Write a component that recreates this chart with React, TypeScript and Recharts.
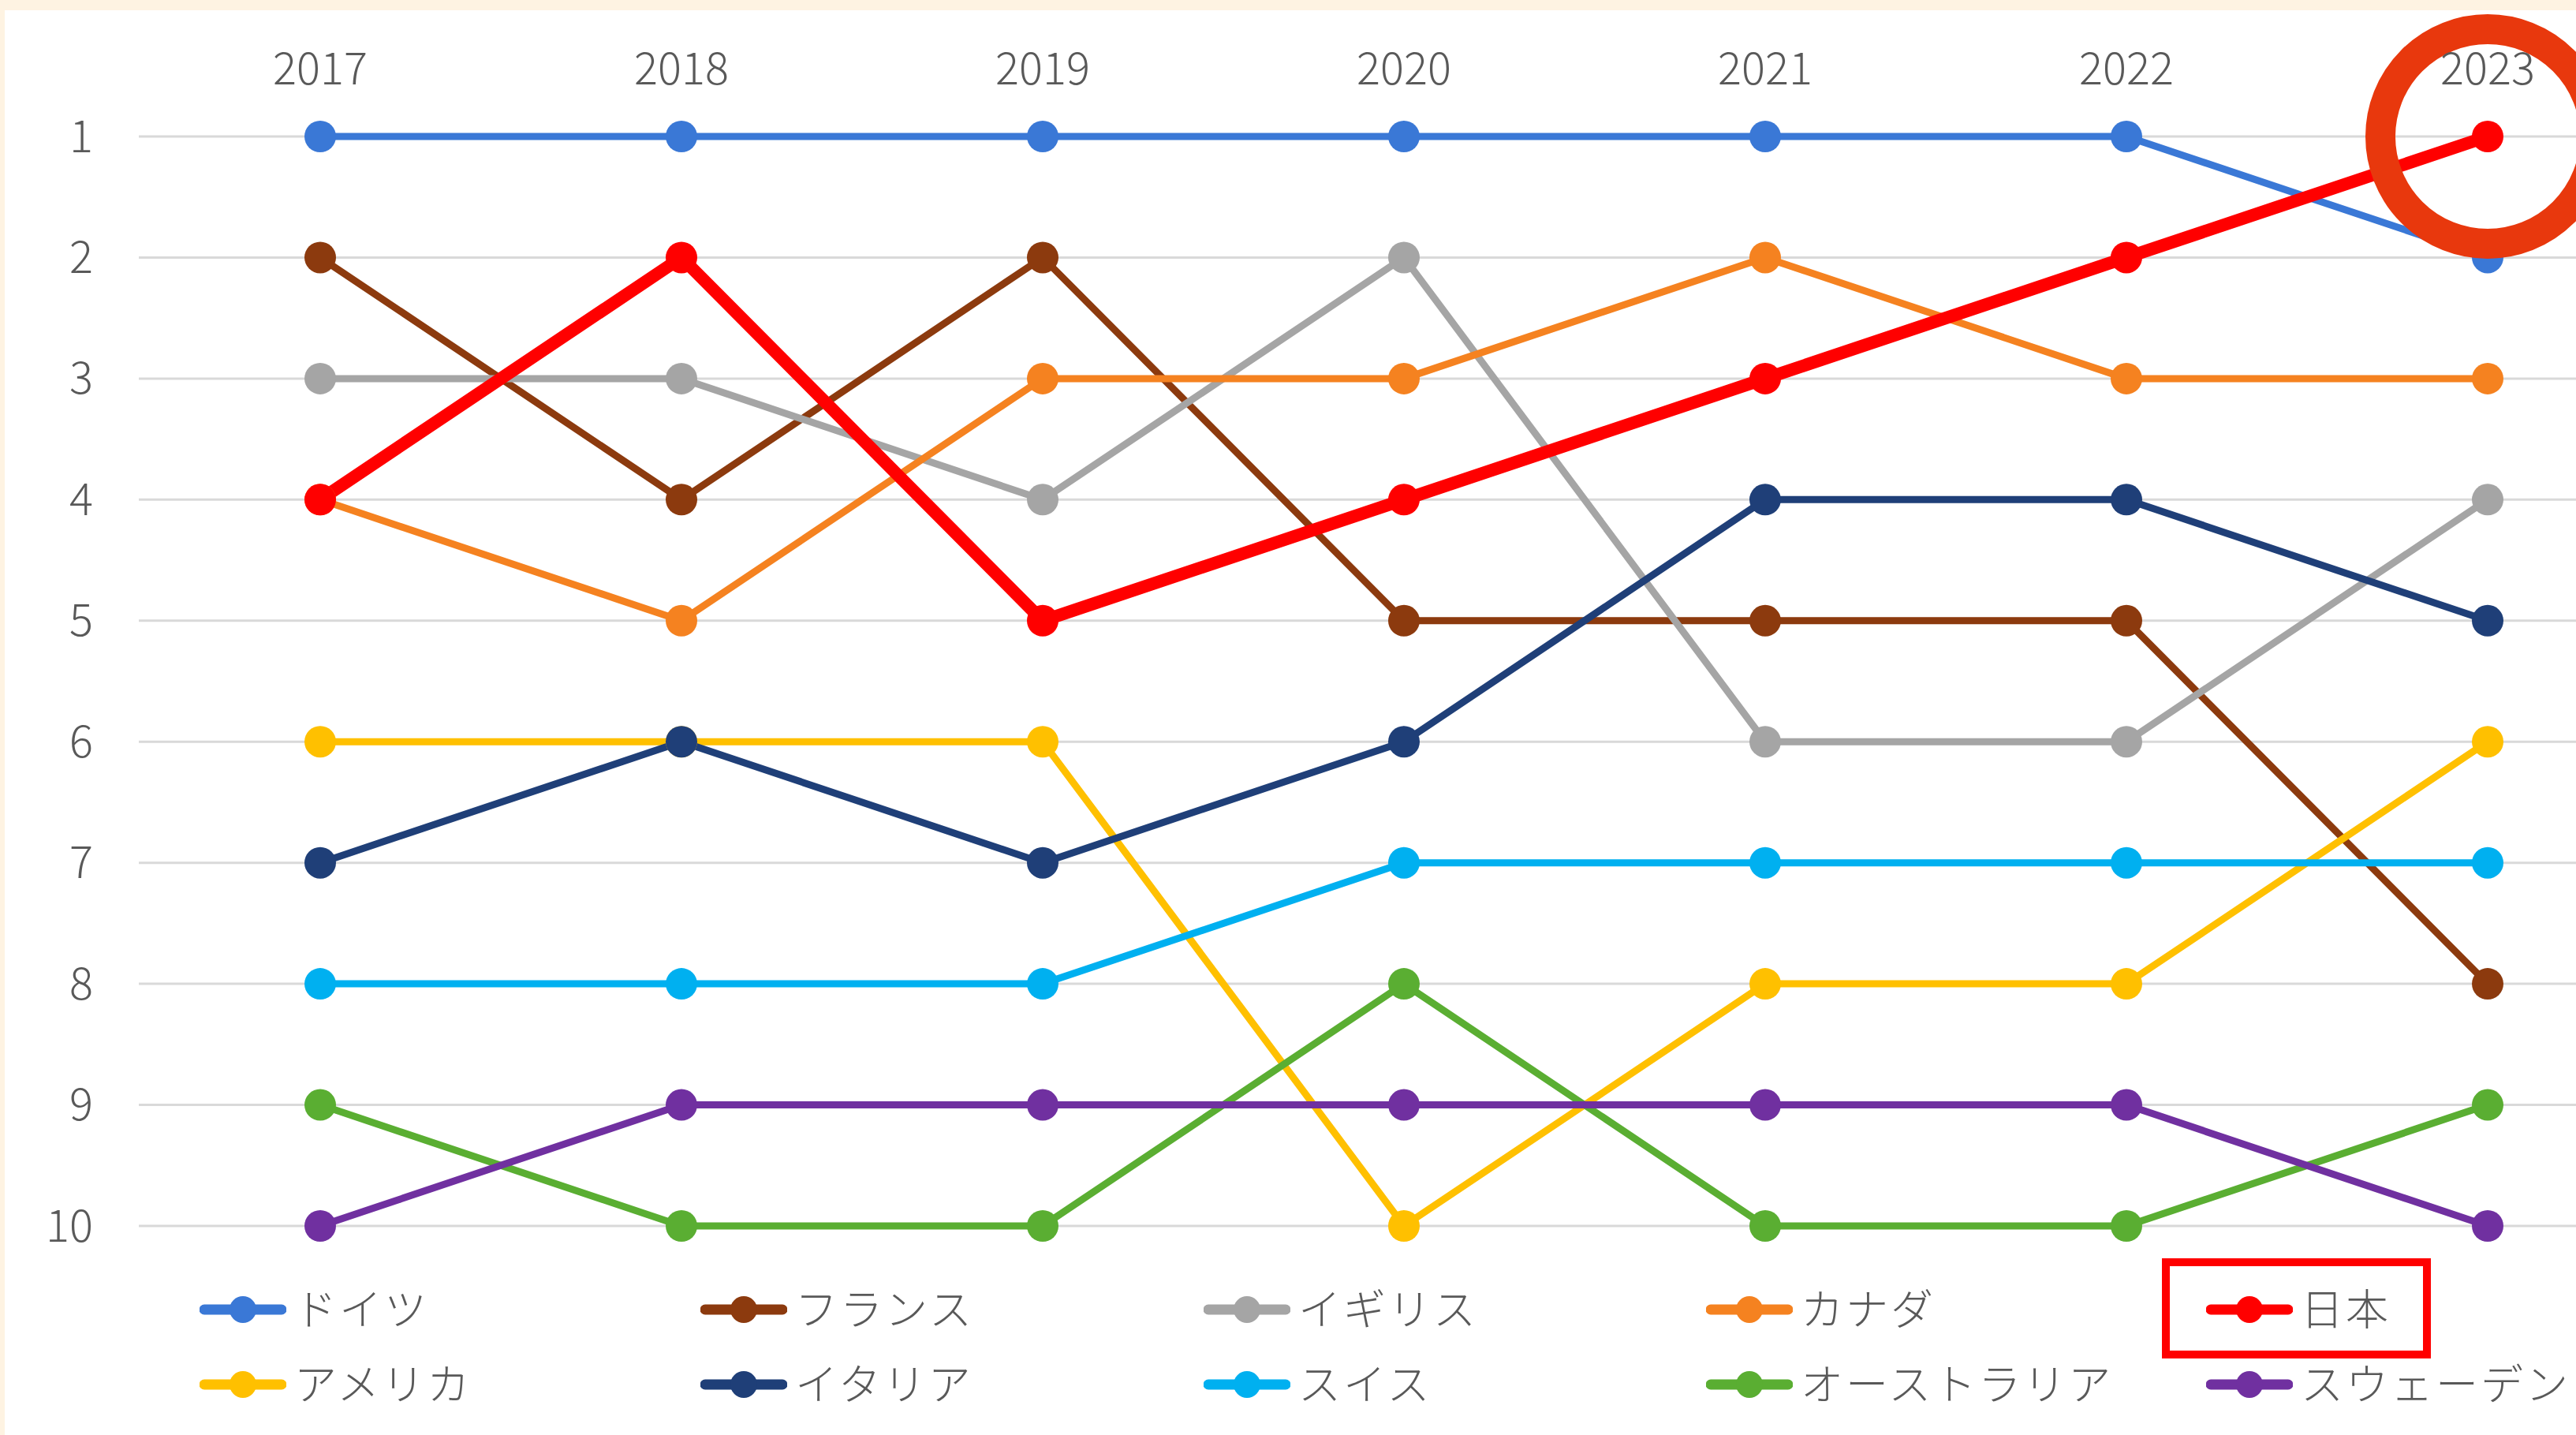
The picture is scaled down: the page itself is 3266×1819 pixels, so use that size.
import React from "react";
import { LineChart, Line, XAxis, YAxis, ReferenceLine, ReferenceDot } from "recharts";

// years and ranks (1 = top)
const years = ["2017", "2018", "2019", "2020", "2021", "2022", "2023"];
const rankTicks = [1, 2, 3, 4, 5, 6, 7, 8, 9, 10];

const countryNames = [
  "ドイツ", "フランス", "イギリス", "カナダ", "日本",
  "アメリカ", "イタリア", "スイス", "オーストラリア", "スウェーデン",
];

const germany = [1, 1, 1, 1, 1, 1, 2];
const france = [2, 4, 2, 5, 5, 5, 8];
const uk = [3, 3, 4, 2, 6, 6, 4];
const canada = [4, 5, 3, 3, 2, 3, 3];
const japan = [4, 2, 5, 4, 3, 2, 1];
const usa = [6, 6, 6, 10, 8, 8, 6];
const italy = [7, 6, 7, 6, 4, 4, 5];
const swiss = [8, 8, 8, 7, 7, 7, 7];
const australia = [9, 10, 10, 8, 10, 10, 9];
const sweden = [10, 9, 9, 9, 9, 9, 10];

const seriesValues = [germany, france, uk, canada, japan, usa, italy, swiss, australia, sweden];

const colors = [
  "#3A78D6", "#8C3A0E", "#A5A5A5", "#F58220", "#FF0000",
  "#FFC000", "#1F3F78", "#00B0F0", "#5AAE32", "#7030A0",
];

const highlight = "日本";

const data = years.map((year, i) => {
  const row: Record<string, string | number> = { year };
  countryNames.forEach((name, s) => {
    row[name] = seriesValues[s][i];
  });
  return row;
});

const textColor = "#595959";
const fontFamily = '"Noto Sans CJK JP", "Noto Sans", sans-serif';

const YearTick = (props: any) => {
  const { x, payload } = props;
  return (
    <text x={x} y={82} textAnchor="middle" dominantBaseline="central"
      fontSize={56} fontWeight={300} fill={textColor} fontFamily={fontFamily}>
      {payload.value}
    </text>
  );
};

const RankTick = (props: any) => {
  const { y, payload } = props;
  return (
    <text x={118} y={y - 5} textAnchor="end" dominantBaseline="central"
      fontSize={56} fontWeight={300} fill={textColor} fontFamily={fontFamily}>
      {payload.value}
    </text>
  );
};

const LegendBlock = () => {
  const colStart = [253, 888, 1526, 2163, 2797];
  const rowY = [1660, 1755];
  return (
    <>
      {countryNames.map((name, i) => {
        const left = colStart[i % 5];
        const top = rowY[Math.floor(i / 5)];
        return (
          <div key={name} style={{ position: "absolute", left, top: top - 40, height: 80, display: "flex", alignItems: "center", whiteSpace: "nowrap" }}>
            <svg width={110} height={40} style={{ display: "block" }}>
              <line x1={6} y1={20} x2={104} y2={20} stroke={colors[i]} strokeWidth={13} strokeLinecap="round" />
              <circle cx={55} cy={20} r={17} fill={colors[i]} />
            </svg>
            <span style={{ marginLeft: 10, marginTop: -8, fontSize: 54, fontWeight: 300, color: textColor, fontFamily, letterSpacing: 3 }}>{name}</span>
          </div>
        );
      })}
      <div style={{ position: "absolute", left: 2741, top: 1595, width: 341, height: 127, border: "10px solid #FF0000", boxSizing: "border-box" }} />
    </>
  );
};

export default function App() {
  return (
    <div style={{ position: "absolute", left: 0, top: 0, width: 3266, height: 1819, background: "#FEF3E2", overflow: "hidden" }}>
      <div style={{ position: "absolute", left: 6, top: 13, width: 3260, height: 1806, background: "#FFFFFF" }} />
      <div style={{ position: "absolute", left: 0, top: 0 }}>
        <LineChart width={3266} height={1819} data={data} margin={{ top: 0, right: 0, bottom: 0, left: 0 }}>
          <XAxis dataKey="year" orientation="top" height={133} axisLine={false} tickLine={false}
            padding={{ left: 230, right: 112 }} tick={<YearTick />} interval={0} />
          <YAxis type="number" domain={[1, 10]} reversed ticks={rankTicks} width={176}
            axisLine={false} tickLine={false} padding={{ top: 40, bottom: 265 }} tick={<RankTick />} interval={0} />
          {rankTicks.map((t) => (
            <ReferenceLine key={t} y={t} stroke="#D9D9D9" strokeWidth={3} />
          ))}
          {countryNames.map((name, i) => (
            <Line key={name} type="linear" dataKey={name} stroke={colors[i]}
              strokeWidth={name === highlight ? 16 : 9}
              dot={{ r: 20, fill: colors[i], stroke: colors[i], strokeWidth: 0 }}
              activeDot={false} isAnimationActive={false} />
          ))}
          <ReferenceDot x="2023" y={1} r={136} fill="none" stroke="#E8380D" strokeWidth={38} />
        </LineChart>
      </div>
      <LegendBlock />
    </div>
  );
}
